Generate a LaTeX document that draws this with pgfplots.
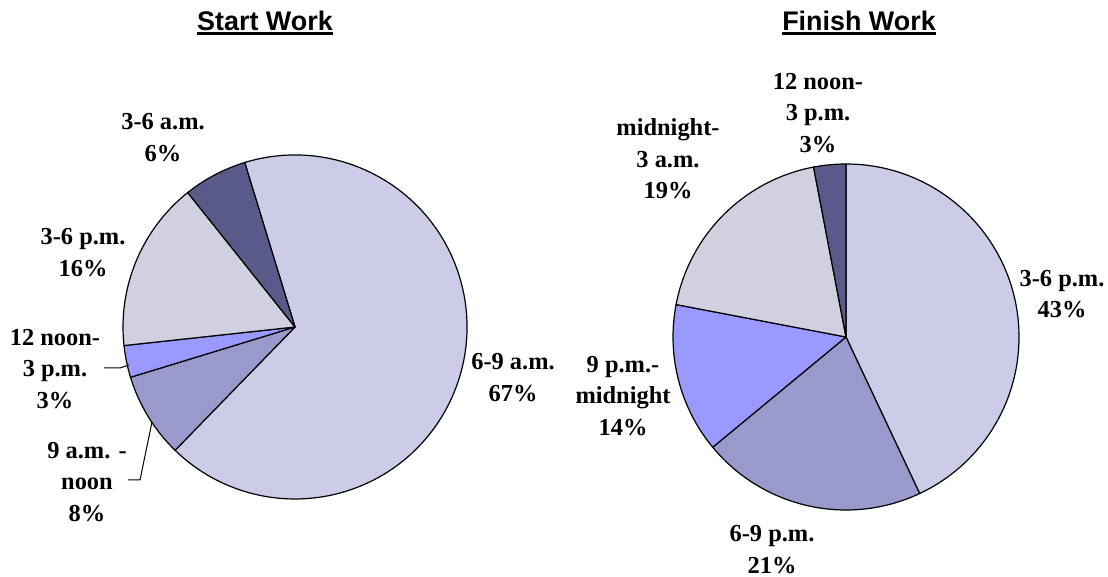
\documentclass[border=0pt]{standalone}
\usepackage{pgfplots}
\pgfplotsset{compat=1.18}
\usepackage{pgfplotstable}
\usepackage{fontspec}
\setmainfont{Liberation Serif}
\newfontfamily\titlefont{Liberation Sans}

\definecolor{lavlight}{HTML}{CCCCE8}
\definecolor{lavgray}{HTML}{D0D0E0}
\definecolor{lavmid}{HTML}{9999CC}
\definecolor{lavblue}{HTML}{9999FF}
\definecolor{lavdark}{HTML}{5A5A8A}

% shares in percent, slice colour, label position, label text
\pgfplotstableread[col sep=semicolon]{
share;fill;lx;ly;name
67;lavlight;513;199.5;{6-9 a.m.}
8;lavmid;87;95;{9 a.m. -\\noon}
3;lavblue;55;208;{12 noon-\\3 p.m.}
16;lavgray;83;324.5;{3-6 p.m.}
6;lavdark;163;439.5;{3-6 a.m.}
}\startwork

\pgfplotstableread[col sep=semicolon]{
share;fill;lx;ly;name
43;lavlight;1062;283;{3-6 p.m.}
21;lavmid;772;27.5;{6-9 p.m.}
14;lavblue;623;181;{9 p.m.-\\midnight}
19;lavgray;668;418;{midnight-\\3 a.m.}
3;lavdark;818;464;{12 noon-\\3 p.m.}
}\finishwork

\newcommand\titleul[1]{\setbox0\hbox{\titlefont\bfseries #1}%
  \rlap{\raisebox{-4.5bp}{\rule{\wd0}{2.6bp}}}\box0}
\newcommand\labfont{\fontsize{24.5}{31.5}\selectfont\bfseries}

% #1 table, #2/#3 centre, #4 radius, #5 start angle (slices run clockwise)
\newcommand\drawpie[5]{%
  \pgfplotstablegetrowsof{#1}%
  \pgfmathtruncatemacro\nrows{\pgfplotsretval-1}%
  \xdef\angA{#5}%
  \foreach \i in {0,...,\nrows}{%
    \pgfplotstablegetelem{\i}{share}\of#1\let\v\pgfplotsretval
    \pgfplotstablegetelem{\i}{fill}\of#1\let\fc\pgfplotsretval
    \pgfmathsetmacro\angB{\angA-3.6*\v}%
    \filldraw[fill=\fc, draw=black, line width=1.2bp, line join=round]
      (axis cs:#2,#3) -- (axis cs:{#2+#4*cos(\angA)},{#3+#4*sin(\angA)})
      arc[start angle=\angA, end angle=\angB, radius=#4bp] -- cycle;
    \xdef\angA{\angB}%
  }%
  \foreach \i in {0,...,\nrows}{%
    \pgfplotstablegetelem{\i}{share}\of#1\let\v\pgfplotsretval
    \pgfplotstablegetelem{\i}{lx}\of#1\let\lx\pgfplotsretval
    \pgfplotstablegetelem{\i}{ly}\of#1\let\ly\pgfplotsretval
    \pgfplotstablegetelem{\i}{name}\of#1\let\nm\pgfplotsretval
    \node[align=center, font=\labfont, inner sep=0pt] at (axis cs:\lx,\ly) {\nm\\\v\%};
  }%
}

\begin{document}
\begin{tikzpicture}
\begin{axis}[x=1bp, y=1bp, xmin=0, xmax=1108, ymin=0, ymax=577,
    hide axis, clip=false]
  \pgfplotsextra{%
    \path (axis cs:0,0) rectangle (axis cs:1108,577);
    \drawpie{\startwork}{295}{250}{172}{107}
    \drawpie{\finishwork}{846}{240}{173}{90}
    \node[font=\fontsize{27}{30}\selectfont] at (axis cs:265,554) {\titleul{Start Work}};
    \node[font=\fontsize{27}{30}\selectfont] at (axis cs:859,554) {\titleul{Finish Work}};
  }
  % leader lines
  \addplot[black, line width=1bp, mark=none] coordinates {(104,209) (120,209) (129,212)};
  \addplot[black, line width=1bp, mark=none] coordinates {(128,97) (140,97) (152,155)};
\end{axis}
\end{tikzpicture}
\end{document}
